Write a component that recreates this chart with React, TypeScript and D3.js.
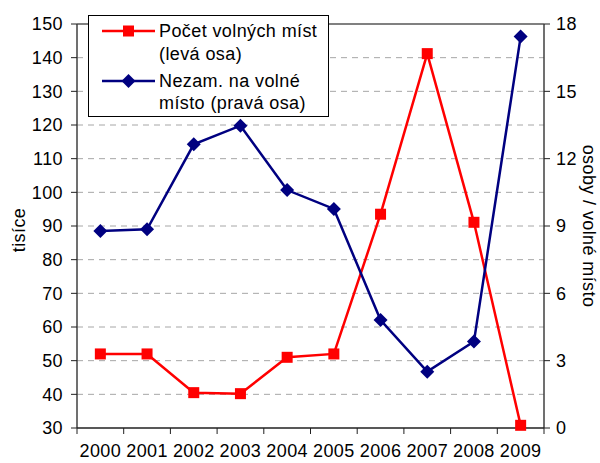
import React from "react";
import * as d3 from "d3";

const years = ["2000", "2001", "2002", "2003", "2004", "2005", "2006", "2007", "2008", "2009"];
const vacancies = [52, 52, 40.5, 40.2, 51, 52, 93.5, 141.2, 91.1, 30.8];
const perVacancy = [8.78, 8.85, 12.64, 13.47, 10.6, 9.76, 4.81, 2.51, 3.85, 17.44];
const leftTicks = [30, 40, 50, 60, 70, 80, 90, 100, 110, 120, 130, 140, 150];
const rightTicks = [0, 3, 6, 9, 12, 15, 18];
const legendLabels = [["Počet volných míst", "(levá osa)"], ["Nezam. na volné", "místo (pravá osa)"]];

const W = 600, H = 463;
const L = 77, R = 544, T = 24, B = 428;
const FONT = "'Liberation Sans', Arial, sans-serif";
const FS = 18;
const LS = 0.4;
const RED = "#ff0000";
const BLUE = "#000080";

export default function App() {
  const x = d3.scaleBand().domain(years).range([L, R]);
  const yL = d3.scaleLinear().domain([30, 150]).range([B, T]);
  const yR = d3.scaleLinear().domain([0, 18]).range([B, T]);
  const cx = (d: string) => (x(d) as number) + x.bandwidth() / 2;

  const redLine = d3.line<number>().x((_, i) => cx(years[i])).y((v) => yL(v))(vacancies) as string;
  const blueLine = d3.line<number>().x((_, i) => cx(years[i])).y((v) => yR(v))(perVacancy) as string;

  const sq = 11;
  const dm = 7;
  const diamond = (px: number, py: number) =>
    `M${px},${py - dm}L${px + dm},${py}L${px},${py + dm}L${px - dm},${py}Z`;

  const boundaries = years.map((y) => x(y) as number).concat([R]);

  return (
    <svg width={W} height={H} style={{ display: "block", position: "absolute", left: 0, top: 0 }} fontFamily={FONT} letterSpacing={LS}>
      <rect x={0} y={0} width={W} height={H} fill="#fff" />
      {/* grid */}
      {leftTicks.filter((t) => t > 30 && t < 150).map((t) => (
        <line key={t} x1={L} x2={R} y1={yL(t)} y2={yL(t)} stroke="#a6a6a6" strokeWidth={1} strokeDasharray="6,5" />
      ))}
      {/* top border */}
      <line x1={L} x2={R} y1={T} y2={T} stroke="#808080" strokeWidth={2} />
      {/* axes */}
      <line x1={L} x2={L} y1={T} y2={B} stroke="#404040" strokeWidth={1.5} />
      <line x1={R} x2={R} y1={T} y2={B} stroke="#404040" strokeWidth={1.5} />
      <line x1={L} x2={R} y1={B} y2={B} stroke="#202020" strokeWidth={1.5} />
      {leftTicks.map((t) => (
        <g key={"l" + t}>
          <line x1={L - 6} x2={L} y1={yL(t)} y2={yL(t)} stroke="#202020" strokeWidth={1} />
          <text x={L - 14} y={yL(t)} dy="0.35em" textAnchor="end" fontSize={FS} fill="#000">{t}</text>
        </g>
      ))}
      {rightTicks.map((t) => (
        <g key={"r" + t}>
          <line x1={R} x2={R + 6} y1={yR(t)} y2={yR(t)} stroke="#202020" strokeWidth={1} />
          <text x={R + 12} y={yR(t)} dy="0.35em" textAnchor="start" fontSize={FS} fill="#000">{t}</text>
        </g>
      ))}
      {boundaries.map((bx, i) => (
        <line key={"b" + i} x1={bx} x2={bx} y1={B} y2={B + 6} stroke="#202020" strokeWidth={1} />
      ))}
      {years.map((y) => (
        <text key={"x" + y} x={cx(y)} y={457} textAnchor="middle" fontSize={FS} fill="#000">{y}</text>
      ))}
      <text transform={`translate(25,230) rotate(-90)`} textAnchor="middle" fontSize={FS} fill="#000">tisíce</text>
      <text transform={`translate(583,226) rotate(90)`} textAnchor="middle" fontSize={FS} fill="#000">osoby / volné místo</text>
      {/* series */}
      <path d={redLine} fill="none" stroke={RED} strokeWidth={2.5} />
      <path d={blueLine} fill="none" stroke={BLUE} strokeWidth={2.5} />
      {vacancies.map((v, i) => (
        <rect key={"rs" + i} x={cx(years[i]) - sq / 2} y={yL(v) - sq / 2} width={sq} height={sq} fill={RED} />
      ))}
      {perVacancy.map((v, i) => (
        <path key={"bd" + i} d={diamond(cx(years[i]), yR(v))} fill={BLUE} />
      ))}
      {/* legend */}
      <rect x={88.5} y={15.5} width={240} height={101} fill="#fff" stroke="#000" strokeWidth={1} />
      <line x1={102} x2={155} y1={31} y2={31} stroke={RED} strokeWidth={2.5} />
      <rect x={128.5 - sq / 2} y={31 - sq / 2} width={sq} height={sq} fill={RED} />
      <line x1={102} x2={155} y1={81} y2={81} stroke={BLUE} strokeWidth={2.5} />
      <path d={diamond(128.5, 81)} fill={BLUE} />
      <text x={159} y={37} fontSize={FS} fill="#000">{legendLabels[0][0]}</text>
      <text x={159} y={60} fontSize={FS} fill="#000">{legendLabels[0][1]}</text>
      <text x={159} y={87} fontSize={FS} fill="#000">{legendLabels[1][0]}</text>
      <text x={159} y={109} fontSize={FS} fill="#000">{legendLabels[1][1]}</text>
    </svg>
  );
}
